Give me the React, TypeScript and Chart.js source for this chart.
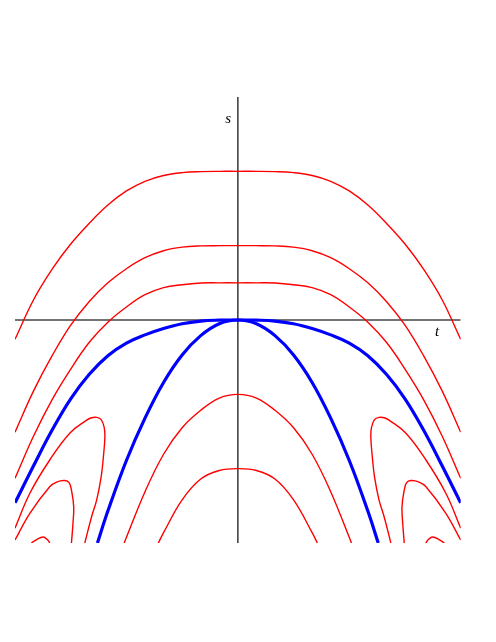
import React, { useEffect, useRef } from "react";
import { Chart, registerables } from "chart.js";

Chart.register(...registerables);

// Shared t grid for the wide curves A–D
const tGrid = [-3, -2.75, -2.5, -2.25, -2, -1.75, -1.5, -1.25, -1, -0.75, -0.5, -0.25, 0, 0.25, 0.5, 0.75, 1, 1.25, 1.5, 1.75, 2, 2.25, 2.5, 2.75, 3];
// Curve A (top red, plateau s = 2)
const sA = [-0.26, 0.273, 0.684, 1.022, 1.301, 1.546, 1.736, 1.866, 1.944, 1.982, 1.996, 2.0, 2.0, 2.0, 1.996, 1.982, 1.944, 1.866, 1.736, 1.546, 1.301, 1.022, 0.684, 0.273, -0.26];
// Curve B (plateau s = 1)
const sB = [-1.51, -0.954, -0.48, -0.07, 0.25, 0.5, 0.69, 0.838, 0.932, 0.98, 0.997, 1.0, 1.0, 1.0, 0.997, 0.98, 0.932, 0.838, 0.69, 0.5, 0.25, -0.07, -0.48, -0.954, -1.51];
// Curve C (plateau s = 0.5)
const sC = [-2.13, -1.56, -1.07, -0.66, -0.3, -0.03, 0.175, 0.34, 0.435, 0.475, 0.498, 0.5, 0.5, 0.5, 0.498, 0.475, 0.435, 0.34, 0.175, -0.03, -0.3, -0.66, -1.07, -1.56, -2.13];
// Blue D (flat separatrix through the origin)
const sD = [-2.46, -1.96, -1.48, -1.06, -0.73, -0.48, -0.31, -0.2, -0.115, -0.05, -0.014, -0.002, 0, -0.002, -0.014, -0.05, -0.115, -0.2, -0.31, -0.48, -0.73, -1.06, -1.48, -1.96, -2.46];
// Blue E (steep separatrix)
const tE = [-1.89, -1.75, -1.5, -1.25, -1, -0.75, -0.5, -0.25, 0, 0.25, 0.5, 0.75, 1, 1.25, 1.5, 1.75, 1.89];
const sE = [-3.0, -2.57, -1.89, -1.32, -0.84, -0.47, -0.21, -0.05, 0, -0.05, -0.21, -0.47, -0.84, -1.32, -1.89, -2.57, -3.0];
// Curve F (peak s = -1)
const tF = [-1.53, -1.25, -1, -0.75, -0.5, -0.25, 0, 0.25, 0.5, 0.75, 1, 1.25, 1.53];
const sF = [-3.0, -2.31, -1.806, -1.45, -1.215, -1.05, -1.0, -1.05, -1.215, -1.45, -1.806, -2.31, -3.0];
// Curve G (peak s = -2)
const tG = [-1.07, -1, -0.75, -0.5, -0.25, 0, 0.25, 0.5, 0.75, 1, 1.07];
const sG = [-3.0, -2.86, -2.42, -2.14, -2.025, -2.0, -2.025, -2.14, -2.42, -2.86, -3.0];
// Loop H (left and right)
const tHL = [-3.0, -2.8, -2.53, -2.26, -2.04, -1.97, -1.9, -1.84, -1.8, -1.79, -1.81, -1.84, -1.9, -1.97, -2.06];
const sHL = [-2.8, -2.33, -1.88, -1.52, -1.35, -1.315, -1.31, -1.34, -1.44, -1.57, -1.84, -2.11, -2.42, -2.65, -3.0];
const tHR = [3.0, 2.8, 2.53, 2.26, 2.04, 1.97, 1.9, 1.84, 1.8, 1.79, 1.81, 1.84, 1.9, 1.97, 2.06];
const sHR = [-2.8, -2.33, -1.88, -1.52, -1.35, -1.315, -1.31, -1.34, -1.44, -1.57, -1.84, -2.11, -2.42, -2.65, -3.0];
// Loop I
const tIL = [-3.0, -2.8, -2.53, -2.44, -2.33, -2.27, -2.24, -2.21, -2.22, -2.24];
const sIL = [-2.96, -2.6, -2.24, -2.18, -2.16, -2.19, -2.29, -2.51, -2.74, -3.0];
const tIR = [3.0, 2.8, 2.53, 2.44, 2.33, 2.27, 2.24, 2.21, 2.22, 2.24];
const sIR = [-2.96, -2.6, -2.24, -2.18, -2.16, -2.19, -2.29, -2.51, -2.74, -3.0];
// Loop J
const tJL = [-2.78, -2.72, -2.62, -2.56, -2.53];
const sJL = [-3.0, -2.96, -2.92, -2.96, -3.0];
const tJR = [2.78, 2.72, 2.62, 2.56, 2.53];
const sJR = [-3.0, -2.96, -2.92, -2.96, -3.0];

// Axes
const axisX = [-3, 3];
const axisZero = [0, 0];
const axisY = [-3, 3];

const toPts = (t: number[], s: number[]) => t.map((v, i) => ({ x: v, y: s[i] }));

const RED = "#ff0000";
const BLUE = "#0000ff";

const labelPlugin = {
  id: "axisLabels",
  afterDatasetsDraw(chart: any) {
    const { ctx, scales } = chart;
    ctx.save();
    ctx.fillStyle = "#000";
    ctx.font = 'italic 15px "Liberation Serif", "DejaVu Serif", serif';
    ctx.textAlign = "center";
    ctx.textBaseline = "alphabetic";
    ctx.fillText("s", scales.x.getPixelForValue(-0.13), scales.y.getPixelForValue(2.646));
    ctx.fillText("t", scales.x.getPixelForValue(2.681), scales.y.getPixelForValue(-0.215));
    ctx.restore();
  },
};

export default function App() {
  const ref = useRef<HTMLCanvasElement>(null);
  useEffect(() => {
    if (!ref.current) return;
    const red = (t: number[], s: number[]) => ({
      data: toPts(t, s),
      borderColor: RED,
      borderWidth: 1.4,
      order: 1,
      tension: 0.4,
    });
    const blue = (t: number[], s: number[]) => ({
      data: toPts(t, s),
      borderColor: BLUE,
      borderWidth: 3.2,
      order: 2,
      tension: 0.4,
    });
    const chart = new Chart(ref.current, {
      type: "scatter",
      data: {
        datasets: [
          red(tGrid, sA),
          red(tGrid, sB),
          red(tGrid, sC),
          red(tF, sF),
          red(tG, sG),
          red(tHL, sHL),
          red(tHR, sHR),
          red(tIL, sIL),
          red(tIR, sIR),
          red(tJL, sJL),
          red(tJR, sJR),
          blue(tGrid, sD),
          blue(tE, sE),
          { data: toPts(axisX, axisZero), borderColor: "#444", borderWidth: 1.6, order: 3, tension: 0 },
          { data: toPts(axisZero, axisY), borderColor: "#444", borderWidth: 1.6, order: 3, tension: 0 },
        ] as any,
      },
      options: {
        responsive: false,
        animation: false,
        layout: { padding: { left: 15, right: 35.3, top: 97, bottom: 99 } },
        elements: {
          line: { fill: false },
          point: { radius: 0, hoverRadius: 0 },
        },
        datasets: { scatter: { showLine: true } } as any,
        plugins: { legend: { display: false }, tooltip: { enabled: false } },
        scales: {
          x: { type: "linear", min: -3, max: 3, display: false },
          y: { type: "linear", min: -3, max: 3, display: false },
        },
      },
      plugins: [labelPlugin],
    });
    return () => chart.destroy();
  }, []);
  return (
    <div style={{ position: "absolute", left: 0, top: 0, width: 496, height: 642, background: "#fff" }}>
      <canvas ref={ref} width={496} height={642} style={{ display: "block" }} />
    </div>
  );
}
